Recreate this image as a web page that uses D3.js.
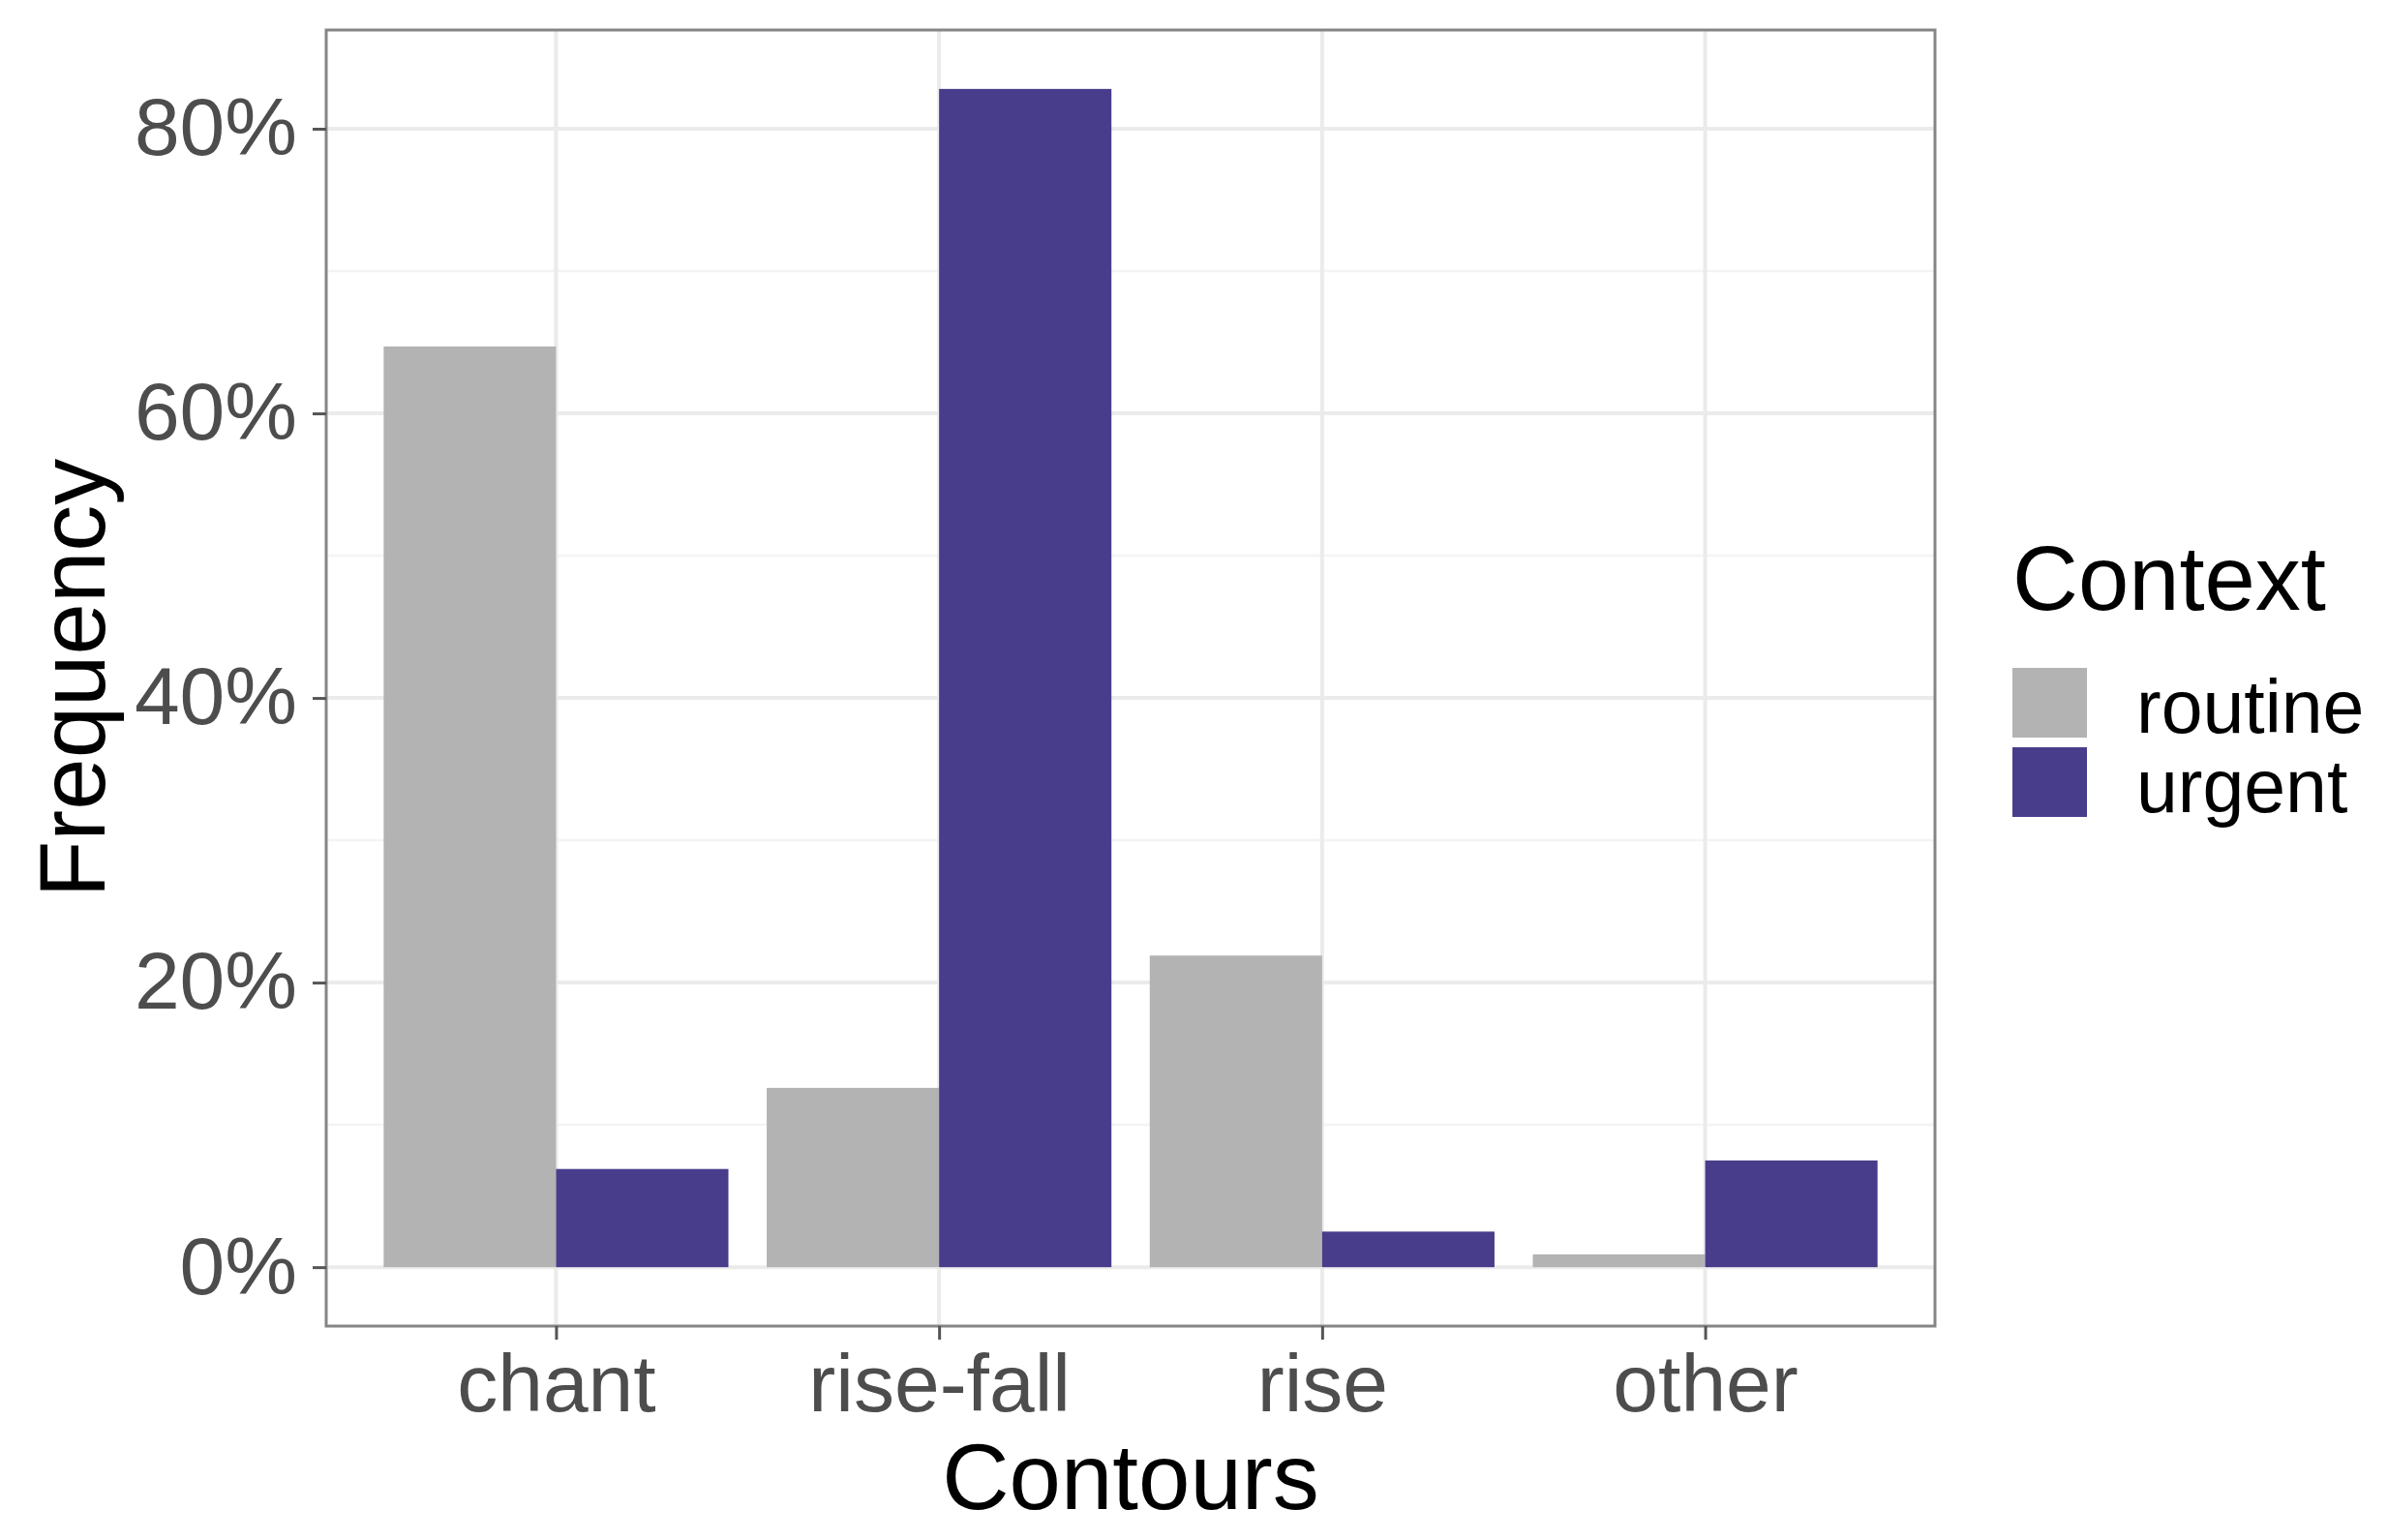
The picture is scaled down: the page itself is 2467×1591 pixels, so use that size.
<!DOCTYPE html>
<html>
<head>
<meta charset="utf-8">
<script src="https://cdn.jsdelivr.net/npm/d3@7"></script>
<style>
  body { margin: 0; background: #fff; }
  text { font-family: "Liberation Sans", Arial, sans-serif; }
</style>
</head>
<body>
<div id="chart"></div>
<script>
const categories = ["chant", "rise-fall", "rise", "other"];
const seriesNames = ["routine", "urgent"];
const routineValues = [64.7, 12.6, 21.9, 0.9];
const urgentValues = [6.9, 82.8, 2.5, 7.5];
const yTicks = [0, 20, 40, 60, 80];
const yMinorTicks = [10, 30, 50, 70];
const colors = ["#B3B3B3", "#483D8B"];

const WIDTH = 2467;
const HEIGHT = 1591;
const LEFT = 337, RIGHT = 1999, TOP = 31, BOTTOM = 1370;

const dataset = categories.map((c, i) => ({
    cat: c,
    values: [routineValues[i], urgentValues[i]]
}));

const svg = d3.select('#chart')
    .append('svg')
    .attr('width', WIDTH)
    .attr('height', HEIGHT);

const X = d3.scalePoint()
    .domain(categories)
    .range([LEFT, RIGHT])
    .padding(0.6);
const STEP = X.step();
const X_SUB = d3.scaleBand()
    .domain(seriesNames)
    .range([-0.45 * STEP, 0.45 * STEP]);

const Y_MAX = d3.max(dataset, d => d3.max(d.values));
const PAD = Y_MAX * 0.05;
const Y = d3.scaleLinear()
    .domain([-PAD, Y_MAX + PAD])
    .range([BOTTOM, TOP]);

// minor grid
svg.append('g')
    .selectAll('line')
    .data(yMinorTicks)
    .enter()
    .append('line')
    .attr('x1', LEFT).attr('x2', RIGHT)
    .attr('y1', d => Y(d)).attr('y2', d => Y(d))
    .attr('stroke', '#F4F4F4')
    .attr('stroke-width', 2.5);

// major grid
svg.append('g')
    .selectAll('line')
    .data(yTicks)
    .enter()
    .append('line')
    .attr('x1', LEFT).attr('x2', RIGHT)
    .attr('y1', d => Y(d)).attr('y2', d => Y(d))
    .attr('stroke', '#EBEBEB')
    .attr('stroke-width', 4);

svg.append('g')
    .selectAll('line')
    .data(categories)
    .enter()
    .append('line')
    .attr('x1', d => X(d)).attr('x2', d => X(d))
    .attr('y1', TOP).attr('y2', BOTTOM)
    .attr('stroke', '#EBEBEB')
    .attr('stroke-width', 4);

// bars
const groups = svg.selectAll('g.bar-group')
    .data(dataset)
    .enter()
    .append('g')
    .attr('class', 'bar-group')
    .attr('transform', d => 'translate(' + X(d.cat) + ',0)');

groups.selectAll('rect')
    .data(d => d.values.map((v, i) => ({ key: seriesNames[i], value: v, idx: i })))
    .enter()
    .append('rect')
    .attr('x', d => X_SUB(d.key))
    .attr('width', X_SUB.bandwidth())
    .attr('y', d => Y(d.value))
    .attr('height', d => Y(0) - Y(d.value))
    .attr('fill', d => colors[d.idx]);

// panel border
svg.append('rect')
    .attr('x', LEFT).attr('y', TOP)
    .attr('width', RIGHT - LEFT).attr('height', BOTTOM - TOP)
    .attr('fill', 'none')
    .attr('stroke', '#858585')
    .attr('stroke-width', 3);

// y axis
const yAxis = svg.append('g')
    .attr('transform', 'translate(' + LEFT + ',0)')
    .call(d3.axisLeft(Y).tickValues(yTicks).tickFormat(d => d + '%').tickSize(14).tickPadding(16));
yAxis.select('.domain').remove();
yAxis.selectAll('.tick line').attr('stroke', '#555').attr('stroke-width', 3);
yAxis.selectAll('.tick text')
    .attr('fill', '#4D4D4D')
    .attr('font-size', '84px')
    .attr('font-family', '"Liberation Sans", Arial, sans-serif');

// x axis
const xAxis = svg.append('g')
    .attr('transform', 'translate(0,' + BOTTOM + ')')
    .call(d3.axisBottom(X).tickSize(14).tickPadding(14));
xAxis.select('.domain').remove();
xAxis.selectAll('.tick line').attr('stroke', '#555').attr('stroke-width', 3);
xAxis.selectAll('.tick text')
    .attr('fill', '#4D4D4D')
    .attr('font-size', '84px')
    .attr('font-family', '"Liberation Sans", Arial, sans-serif');

// axis titles
svg.append('text')
    .attr('x', (LEFT + RIGHT) / 2)
    .attr('y', 1559)
    .attr('text-anchor', 'middle')
    .attr('font-size', '96px')
    .attr('fill', '#000')
    .text('Contours');

svg.append('text')
    .attr('transform', 'translate(108,' + ((TOP + BOTTOM) / 2) + ') rotate(-90)')
    .attr('text-anchor', 'middle')
    .attr('font-size', '96px')
    .attr('fill', '#000')
    .text('Frequency');

// legend
const legend = svg.append('g')
    .attr('transform', 'translate(2079,0)');

legend.append('text')
    .attr('x', 0)
    .attr('y', 630)
    .attr('font-size', '94px')
    .attr('fill', '#000')
    .text('Context');

const KEY_Y = [690, 772];
seriesNames.forEach((name, i) => {
    legend.append('rect')
        .attr('x', 0)
        .attr('y', KEY_Y[i])
        .attr('width', 77)
        .attr('height', 72)
        .attr('fill', colors[i]);
    legend.append('text')
        .attr('x', 128)
        .attr('y', KEY_Y[i] + 67)
        .attr('font-size', '77px')
        .attr('fill', '#000')
        .text(name);
});
</script>
</body>
</html>
